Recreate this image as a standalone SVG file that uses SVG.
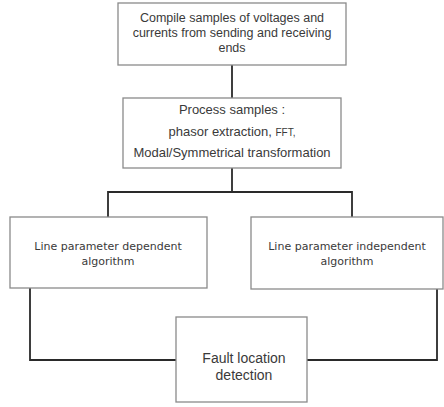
<svg xmlns="http://www.w3.org/2000/svg" width="444" height="407" viewBox="0 0 444 407">
<style>
.box{fill:#fff;stroke:#8a8a8a;stroke-width:1.3}
.conn{fill:none;stroke:#2a2a2a;stroke-width:1.8}
.t{font-family:"Liberation Sans",Arial,sans-serif;fill:#3a3a3a;text-anchor:middle}
.v{font-family:"DejaVu Sans",Verdana,sans-serif;fill:#3a3a3a;text-anchor:middle;font-size:11px}
</style>
<rect width="444" height="407" fill="#fff"/>
<g id="connectors">
<path class="conn" d="M232 65V98"/>
<path class="conn" d="M232 168V192"/>
<path class="conn" d="M108 217V192H352V217"/>
<path class="conn" d="M30 288V360H176"/>
<path class="conn" d="M437 289V360H307"/>
</g>
<g id="compile">
<rect class="box" x="118" y="3" width="228" height="62"/>
<text class="t" font-size="12.5" x="232" y="22">Compile samples of voltages and</text>
<text class="t" font-size="12.5" x="232" y="37">currents from sending and receiving</text>
<text class="t" font-size="12.5" x="232" y="52">ends</text>
</g>
<g id="process">
<rect class="box" x="123" y="98" width="218" height="70"/>
<text class="t" font-size="13" x="232" y="114">Process samples :</text>
<text class="t" font-size="13" x="232" y="136">phasor extraction, <tspan font-size="10">FFT,</tspan></text>
<text class="t" font-size="13" x="232" y="157">Modal/Symmetrical transformation</text>
</g>
<g id="dependent">
<rect class="box" x="10" y="217" width="197" height="71"/>
<text class="v" x="108" y="250">Line parameter dependent</text>
<text class="v" x="108" y="265">algorithm</text>
</g>
<g id="independent">
<rect class="box" x="251" y="217" width="192" height="72"/>
<text class="v" x="347" y="250">Line parameter independent</text>
<text class="v" x="347" y="265">algorithm</text>
</g>
<g id="fault">
<rect class="box" x="176" y="317" width="131" height="85"/>
<text class="t" font-size="14" x="244" y="363">Fault location</text>
<text class="t" font-size="14" x="244" y="380">detection</text>
</g>
</svg>
